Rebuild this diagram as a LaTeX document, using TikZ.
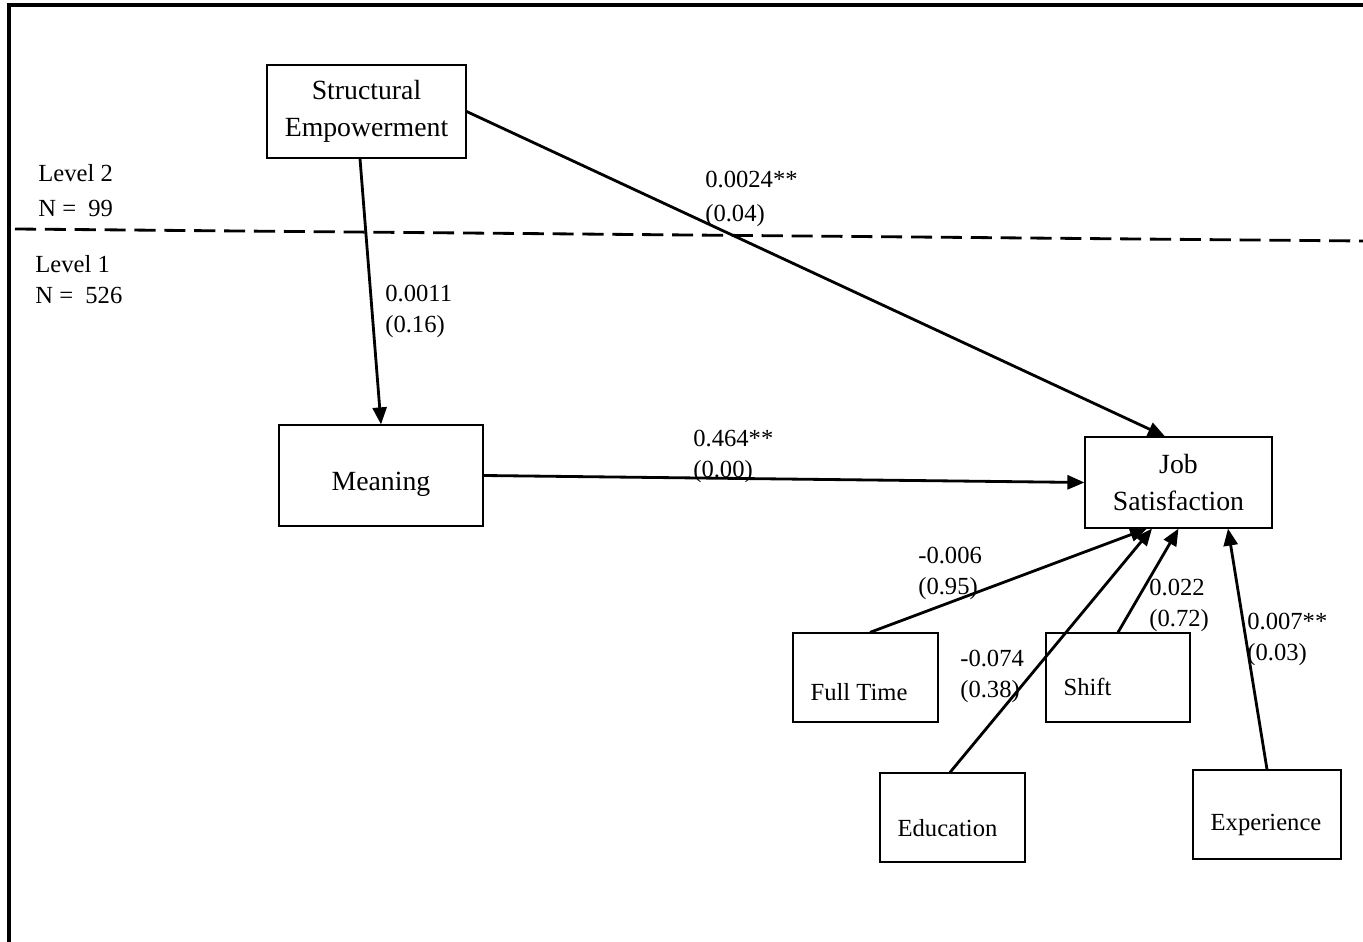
\documentclass[tikz,border=0pt]{standalone}
\usepackage{fontspec}
\setmainfont{Liberation Serif}
\usetikzlibrary{arrows.meta}
\tikzset{>={Triangle[length=3.4mm,width=2.8mm]}}
\tikzset{box/.style={draw, line width=0.7pt, inner sep=0pt, align=center, font=\fontsize{15.8}{21}\selectfont}}
\tikzset{txt/.style={inner sep=0pt, font=\fontsize{14}{17}\selectfont}}
\tikzset{coef/.style={inner sep=0pt, anchor=west, align=left, font=\fontsize{14}{17.6}\selectfont}}
\tikzset{conn/.style={->, line width=1.6pt}}

\begin{document}
\begin{tikzpicture}[x=0.02cm, y=-0.02cm]
        \useasboundingbox (0,0) rectangle (1363,942);
        \draw[line width=2pt] (9,942) -- (9,5) -- (1363,5);

        \node[box, minimum width=3.98cm, minimum height=1.86cm] (se) at (366.5,111.5) {Structural\\Empowerment};
        \node[box, minimum width=4.08cm, minimum height=2.02cm] (mean) at (381,475.5) {};
        \node[box, minimum width=3.74cm, minimum height=1.82cm] (job) at (1178.5,482.5) {Job\\Satisfaction};
        \node[box, minimum width=2.9cm, minimum height=1.78cm] (ft) at (865.5,677.5) {};
        \node[box, minimum width=2.9cm, minimum height=1.78cm] (edu) at (952.5,817.5) {};
        \node[box, minimum width=2.88cm, minimum height=1.78cm] (shift) at (1118,677.5) {};
        \node[box, minimum width=2.96cm, minimum height=1.78cm] (exp) at (1267,814.5) {};

        \node[box, draw=none] (mean-t) at (381,484) {Meaning};
        \node[txt] (ft-t) at (859,692) {Full Time};
        \node[txt] (edu-t) at (947.5,828) {Education};
        \node[txt] (shift-t) at (1087.5,687) {Shift};
        \node[txt] (exp-t) at (1266,825) {Experience};

        \node[coef] (lv2) at (38,190.5) {Level 2\\[2pt]N =\ \ 99};
        \node[coef] (lv1) at (35,280) {Level 1\\N =\ \ 526};

        \coordinate (cut-l) at (15,229);
        \coordinate (cut-r) at (1363,241);
        \draw[line width=1.6pt, dash pattern=on 12pt off 5pt] (cut-l) -- (cut-r);

        \draw[conn] ([xshift=-0.13cm]se.south) -- (mean.north);
        \draw[conn] (se.east) -- ([xshift=-0.27cm]job.north);
        \draw[conn] (mean.east) -- (job.west);
        \draw[conn] ([xshift=0.09cm]ft.north) -- ([xshift=-0.63cm]job.south);
        \draw[conn] ([xshift=-0.05cm]edu.north) -- ([xshift=-0.53cm]job.south);
        \draw[conn] (shift.north) -- (job.south);
        \draw[conn] (exp.north) -- ([xshift=0.99cm]job.south);

        \node[coef] (c-sm) at (385,311) {0.0011\\(0.16)};
        \node[coef] (c-sj) at (705,199) {0.0024**\\[2pt](0.04)};
        \node[coef] (c-mj) at (693,456) {0.464**\\(0.00)};
        \node[coef] (c-fj) at (918,573) {-0.006\\(0.95)};
        \node[coef] (c-ej) at (960,676) {-0.074\\(0.38)};
        \node[coef] (c-hj) at (1149,605) {0.022\\(0.72)};
        \node[coef] (c-xj) at (1247,639) {0.007**\\(0.03)};
    \end{tikzpicture}
\end{document}
